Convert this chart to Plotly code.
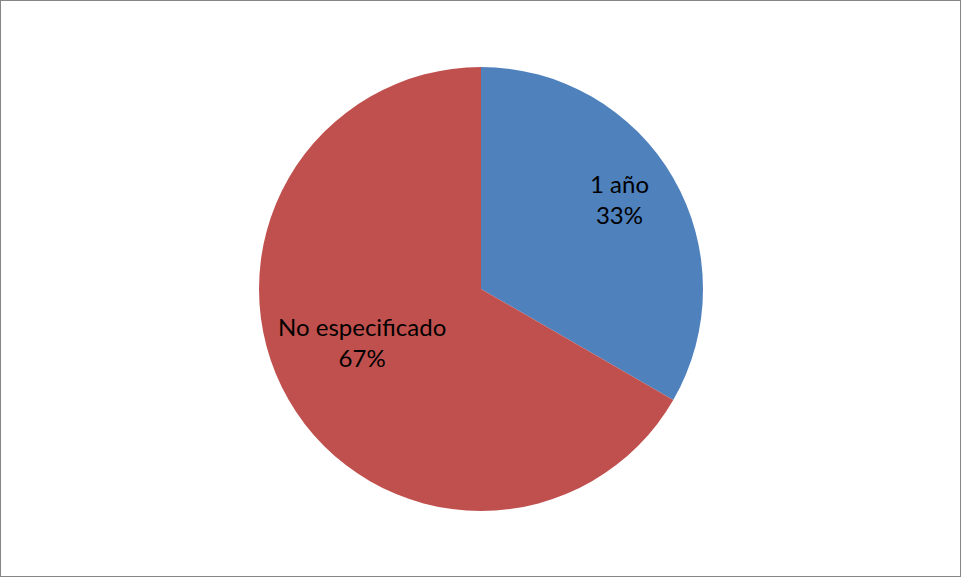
import math
import plotly.graph_objects as go

# Duración del contrato
categorias = ["1 año", "No especificado"]
valores = [1, 2]
colores = ["#4F81BD", "#C0504D"]

W, H = 961, 577
cx, cy, r = 481, 289, 222  # pie centre and radius in pixels

# label placement inside each slice: angular shift from the slice's mid-angle
# (degrees, clockwise) and distance from the centre as a fraction of the radius
ajuste_angulo = [-3, 6]
radio_etiqueta = [0.742, 0.587]

fig = go.Figure(
    go.Pie(
        labels=categorias,
        values=valores,
        marker=dict(colors=colores, line=dict(width=0)),
        sort=False,
        direction="clockwise",
        rotation=0,
        textinfo="none",
        hoverinfo="label+percent",
        domain=dict(
            x=[(cx - r) / W, (cx + r) / W],
            y=[(H - cy - r) / H, (H - cy + r) / H],
        ),
        showlegend=False,
    )
)

total = sum(valores)
acumulado = 0.0
annotations = []
for cat, val, da, fr in zip(categorias, valores, ajuste_angulo, radio_etiqueta):
    medio = (acumulado + val / 2) / total * 360 + da
    acumulado += val
    px = cx + fr * r * math.sin(math.radians(medio))
    py = cy - fr * r * math.cos(math.radians(medio))
    annotations.append(
        dict(
            x=px / W, y=1 - py / H, xref="paper", yref="paper",
            text=f"{cat}<br>{round(val / total * 100)}%",
            showarrow=False, xanchor="center", yanchor="middle",
            align="center",
            font=dict(family="Lato", size=24, color="#000000"),
        )
    )

fig.update_layout(
    width=W,
    height=H,
    margin=dict(l=0, r=0, t=0, b=0),
    paper_bgcolor="#FFFFFF",
    plot_bgcolor="#FFFFFF",
    annotations=annotations,
    shapes=[
        dict(
            type="rect", xref="paper", yref="paper",
            x0=0, y0=0, x1=1, y1=1,
            line=dict(color="#868686", width=2),
        )
    ],
)

fig.write_html("out.html")
